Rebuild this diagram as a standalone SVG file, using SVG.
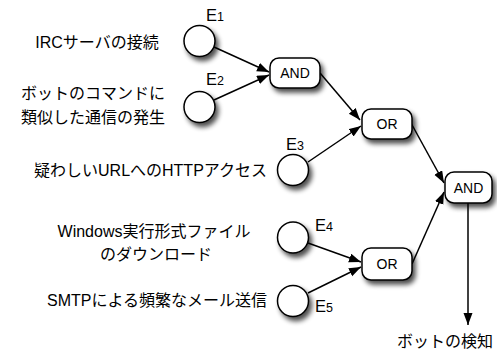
<svg xmlns="http://www.w3.org/2000/svg" width="497" height="355" viewBox="0 0 497 355">
<style>
text{font-family:"Liberation Sans","Noto Sans CJK JP",sans-serif;fill:#000}
.lbl{font-size:16px}
.e{font-size:16.5px}
.sub{font-size:12.5px}
.gt{font-size:14px;text-anchor:middle}
.ev{fill:#fff;stroke:#000;stroke-width:1.5}
.gate{fill:#fff;stroke:#000;stroke-width:1.5}
.conn line{stroke:#000;stroke-width:1.5;marker-end:url(#ah)}
.sh{filter:url(#shadow)}
</style>
<defs>
<marker id="ah" markerUnits="userSpaceOnUse" markerWidth="13" markerHeight="10" refX="12" refY="4.5" orient="auto">
<path d="M0,0 L12,4.5 L0,9 z" fill="#000"/>
</marker>
<filter id="shadow" x="-30%" y="-30%" width="170%" height="170%">
<feGaussianBlur in="SourceAlpha" stdDeviation="2.4"/>
<feOffset dx="3" dy="4" result="b"/>
<feComponentTransfer in="b" result="s"><feFuncA type="linear" slope="0.7"/></feComponentTransfer>
<feMerge><feMergeNode in="s"/><feMergeNode in="SourceGraphic"/></feMerge>
</filter>
</defs>

<g id="labels">
<text class="lbl" x="97" y="48" text-anchor="middle">IRCサーバの接続</text>
<text class="lbl" x="93" y="99" text-anchor="middle">ボットのコマンドに</text>
<text class="lbl" x="93" y="123" text-anchor="middle">類似した通信の発生</text>
<text class="lbl" x="267" y="176" text-anchor="end">疑わしいURLへのHTTPアクセス</text>
<text class="lbl" x="154" y="237" text-anchor="middle">Windows実行形式ファイル</text>
<text class="lbl" x="156" y="260" text-anchor="middle">のダウンロード</text>
<text class="lbl" x="267" y="306" text-anchor="end">SMTPによる頻繁なメール送信</text>
<text class="lbl" x="445" y="347" text-anchor="middle">ボットの検知</text>
</g>

<g id="connectors" class="conn">
<line x1="214" y1="47" x2="269" y2="72"/>
<line x1="214" y1="100" x2="269" y2="75"/>
<line x1="320" y1="73" x2="360" y2="120"/>
<line x1="308" y1="162" x2="361" y2="126"/>
<line x1="411" y1="123" x2="444" y2="183"/>
<line x1="308" y1="243" x2="361" y2="262"/>
<line x1="308" y1="293" x2="361" y2="267"/>
<line x1="412" y1="264" x2="444" y2="192"/>
<line x1="468" y1="203" x2="468" y2="325"/>
</g>

<g id="E1"><circle class="ev sh" cx="199.5" cy="41" r="15.5"/><text class="e" x="206" y="21">E<tspan class="sub">1</tspan></text></g>
<g id="E2"><circle class="ev sh" cx="199.5" cy="107" r="15.5"/><text class="e" x="206" y="85">E<tspan class="sub">2</tspan></text></g>
<g id="E3"><circle class="ev sh" cx="293" cy="170" r="15.5"/><text class="e" x="286" y="150">E<tspan class="sub">3</tspan></text></g>
<g id="E4"><circle class="ev sh" cx="293" cy="237.5" r="15.5"/><text class="e" x="315" y="231">E<tspan class="sub">4</tspan></text></g>
<g id="E5"><circle class="ev sh" cx="293" cy="301" r="15.5"/><text class="e" x="315" y="312">E<tspan class="sub">5</tspan></text></g>

<g id="AND1"><rect class="gate sh" x="270" y="58" width="50" height="30" rx="9"/><text class="gt" x="295" y="78">AND</text></g>
<g id="OR1"><rect class="gate sh" x="362" y="109" width="50" height="30" rx="9"/><text class="gt" x="387" y="129">OR</text></g>
<g id="AND2"><rect class="gate sh" x="445" y="172" width="47" height="31" rx="9"/><text class="gt" x="468.5" y="192.5">AND</text></g>
<g id="OR2"><rect class="gate sh" x="362" y="248" width="50" height="32" rx="9"/><text class="gt" x="387" y="269">OR</text></g>
</svg>
